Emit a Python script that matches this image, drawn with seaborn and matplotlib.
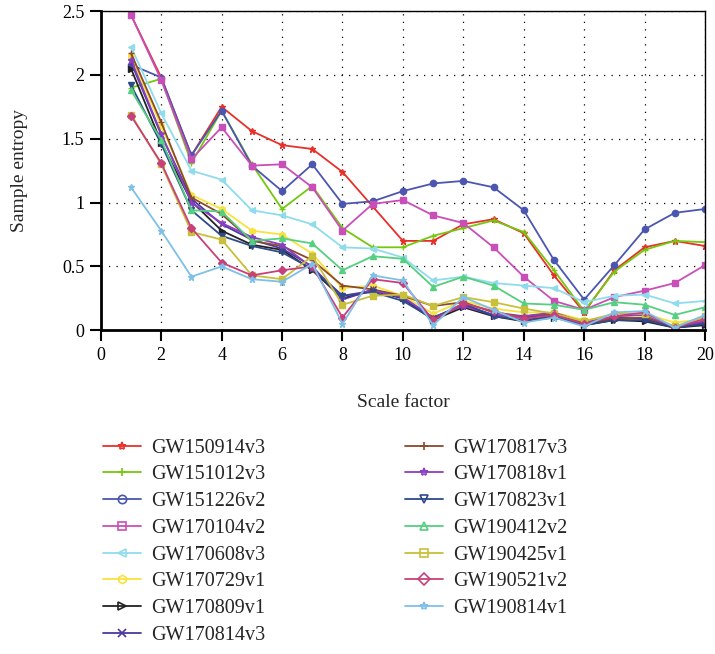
import seaborn as sns
import matplotlib.pyplot as plt
from matplotlib.lines import Line2D
import pandas as pd

# scale factors 1..20
scales = list(range(1, 21))

events = ["GW150914v3", "GW151012v3", "GW151226v2", "GW170104v2", "GW170608v3",
          "GW170729v1", "GW170809v1", "GW170814v3", "GW170817v3", "GW170818v1",
          "GW170823v1", "GW190412v2", "GW190425v1", "GW190521v2", "GW190814v1"]

gw150914 = [2.47, 1.98, 1.37, 1.75, 1.56, 1.45, 1.42, 1.24, 0.97, 0.70,
            0.70, 0.83, 0.87, 0.76, 0.43, 0.14, 0.47, 0.65, 0.70, 0.66]
gw151012 = [1.90, 1.97, 1.31, 1.72, 1.30, 0.95, 1.13, 0.80, 0.65, 0.65,
            0.74, 0.80, 0.86, 0.77, 0.47, 0.15, 0.46, 0.63, 0.70, 0.69]
gw151226 = [2.08, 1.98, 1.37, 1.72, 1.29, 1.09, 1.30, 0.99, 1.01, 1.09,
            1.15, 1.17, 1.12, 0.94, 0.55, 0.24, 0.51, 0.79, 0.92, 0.95]
gw170104 = [2.47, 1.96, 1.34, 1.59, 1.29, 1.30, 1.12, 0.78, 0.99, 1.02,
            0.90, 0.84, 0.65, 0.42, 0.23, 0.16, 0.26, 0.31, 0.37, 0.51]
gw170608 = [2.22, 1.70, 1.25, 1.18, 0.94, 0.90, 0.83, 0.65, 0.64, 0.57,
            0.39, 0.42, 0.37, 0.35, 0.33, 0.22, 0.27, 0.28, 0.21, 0.23]
gw170729 = [2.15, 1.60, 1.06, 0.95, 0.78, 0.75, 0.60, 0.33, 0.35, 0.27,
            0.13, 0.23, 0.17, 0.14, 0.14, 0.08, 0.10, 0.13, 0.06, 0.09]
gw170809 = [2.05, 1.47, 1.01, 0.78, 0.67, 0.63, 0.47, 0.25, 0.31, 0.25,
            0.08, 0.18, 0.11, 0.07, 0.10, 0.04, 0.08, 0.07, 0.02, 0.04]
gw170814 = [2.10, 1.53, 1.03, 0.83, 0.71, 0.64, 0.50, 0.24, 0.32, 0.25,
            0.10, 0.20, 0.12, 0.10, 0.12, 0.06, 0.10, 0.09, 0.02, 0.06]
gw170817 = [2.17, 1.63, 1.04, 0.91, 0.70, 0.66, 0.55, 0.35, 0.32, 0.27,
            0.19, 0.22, 0.14, 0.11, 0.13, 0.05, 0.09, 0.10, 0.03, 0.07]
gw170818 = [2.12, 1.54, 1.00, 0.84, 0.73, 0.67, 0.49, 0.27, 0.31, 0.26,
            0.10, 0.19, 0.12, 0.11, 0.14, 0.06, 0.11, 0.12, 0.02, 0.07]
gw170823 = [1.92, 1.46, 0.94, 0.74, 0.66, 0.61, 0.48, 0.27, 0.30, 0.23,
            0.09, 0.21, 0.11, 0.08, 0.11, 0.04, 0.08, 0.08, 0.02, 0.05]
gw190412 = [1.88, 1.49, 0.94, 0.93, 0.70, 0.72, 0.68, 0.47, 0.58, 0.56,
            0.34, 0.42, 0.35, 0.21, 0.20, 0.16, 0.22, 0.20, 0.12, 0.18]
gw190425 = [1.69, 1.30, 0.77, 0.71, 0.43, 0.40, 0.58, 0.20, 0.27, 0.28,
            0.19, 0.26, 0.22, 0.17, 0.13, 0.07, 0.13, 0.13, 0.03, 0.11]
gw190521 = [1.68, 1.31, 0.80, 0.53, 0.43, 0.47, 0.50, 0.10, 0.40, 0.37,
            0.08, 0.21, 0.15, 0.09, 0.12, 0.05, 0.11, 0.14, 0.02, 0.09]
gw190814 = [1.12, 0.78, 0.42, 0.50, 0.40, 0.38, 0.52, 0.05, 0.43, 0.39,
            0.04, 0.26, 0.16, 0.06, 0.10, 0.03, 0.14, 0.15, 0.02, 0.12]

values = [gw150914, gw151012, gw151226, gw170104, gw170608, gw170729, gw170809,
          gw170814, gw170817, gw170818, gw170823, gw190412, gw190425, gw190521, gw190814]

colors = ["#e8302a", "#74c80e", "#4a56b0", "#c94fb8", "#8fdcec", "#f7e23e", "#222222",
          "#4b38a0", "#8b4a2a", "#8a3ec0", "#2e4a8c", "#55cf80", "#c8c03a", "#c8407a", "#7ec0e8"]
markers = ["*", "+", "o", "s", "<", "h", ">", "x", "+", "*", "v", "^", "s", "D", "*"]

sns.set_theme(style="white")
plt.rcParams['font.family'] = ['Liberation Serif', 'DejaVu Serif']

fig = plt.figure(figsize=(7.15, 6.54), dpi=100)
ax = fig.add_axes([0.141, 0.495, 0.845, 0.488])

# one seaborn call per event (mixed filled / line-art markers)
for name, vals, col, mk in zip(events, values, colors, markers):
    df = pd.DataFrame({"Scale": scales, "Entropy": vals})
    sns.lineplot(data=df, x="Scale", y="Entropy", color=col, marker=mk,
                 markersize=4.5, markerfacecolor=col, markeredgecolor=col,
                 markeredgewidth=1.0, linewidth=1.3, legend=False, ax=ax)

ax.set_xlim(0, 20)
ax.set_ylim(0, 2.5)
ax.set_xticks(range(0, 21, 2))
ax.set_yticks([0, 0.5, 1, 1.5, 2, 2.5])
ax.set_yticklabels(["0", "0.5", "1", "1.5", "2", "2.5"])
ax.grid(True, color="black", linestyle=(0, (1, 5)), linewidth=0.9)
ax.tick_params(direction="out", length=8, width=1.5, labelsize=13, pad=4,
               left=True, bottom=True, colors="black")
for side in ["left", "bottom"]:
    ax.spines[side].set_linewidth(2)
    ax.spines[side].set_color("black")
for side in ["top", "right"]:
    ax.spines[side].set_linewidth(1)
    ax.spines[side].set_color("black")
ax.set_xlabel("Scale factor", fontsize=14, labelpad=22)
ax.set_ylabel("Sample entropy", fontsize=14, labelpad=24)

# legend with open markers
handles = [Line2D([], [], color=c, marker=m, markersize=6, markerfacecolor="none",
                  markeredgecolor=c, markeredgewidth=1.2, linewidth=1.3)
           for c, m in zip(colors, markers)]
fig.legend(handles, events, loc="upper left", bbox_to_anchor=(0.119, 0.357),
           ncol=2, frameon=False, fontsize=14.5, handlelength=1.9,
           handletextpad=0.5, columnspacing=6.9, labelspacing=0.38)

fig.savefig("out.png", dpi=100)
